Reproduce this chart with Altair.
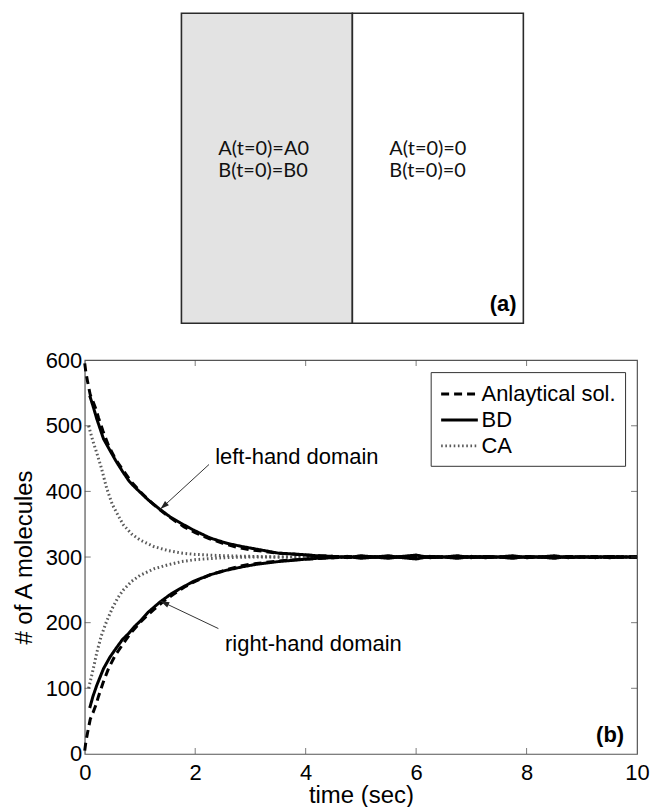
import math
import altair as alt
import pandas as pd

# ---------------- panel (b): number of A molecules vs time ----------------
methods = ["Anlaytical sol.", "BD", "CA"]

an_t = [0, 0.02, 0.05, 0.1, 0.15, 0.2, 0.25, 0.33, 0.43, 0.55, 0.68, 0.83, 1.0,
        1.13, 1.25, 1.42, 1.6, 1.8, 2.0, 2.25, 2.5, 2.75, 3.0, 3.5, 4.0, 4.5,
        5.0, 6.0, 7.0, 8.0, 9.0, 10.0]
an_left = [595, 582, 568, 547, 537, 526, 512, 492, 470, 450, 434, 416, 400,
           389, 380, 368, 357, 346, 337, 328, 321, 315, 311, 306, 303, 301,
           300, 300, 300, 300, 300, 300]
an_right = [5, 18, 32, 53, 63, 74, 88, 108, 130, 150, 166, 184, 200,
            211, 220, 232, 243, 254, 263, 272, 279, 285, 289, 294, 297, 299,
            300, 300, 300, 300, 300, 300]

bd_t = [0.09, 0.15, 0.22, 0.34, 0.46, 0.56, 0.68, 0.8, 0.9, 1.0, 1.15, 1.37,
        1.55, 1.73, 1.97, 2.27, 2.57, 2.85, 3.11, 3.5, 3.9, 4.2,
        4.5, 4.75, 5.0, 5.25, 5.5, 5.75, 6.0, 6.25, 6.5, 6.75, 7.0, 7.25,
        7.5, 7.75, 8.0, 8.25, 8.5, 8.75, 9.0, 9.25, 9.5, 9.75, 10.0]
bd_left = [546, 530, 510, 480, 462, 447, 431, 416, 407, 399, 387, 372,
           361, 352, 341, 329, 321, 316, 312, 306, 304, 302,
           301, 299, 302, 300, 298, 301, 303, 299, 300, 302, 299, 301,
           300, 298, 301, 300, 302, 299, 300, 301, 299, 300, 300]
bd_right = [70, 88, 105, 130, 148, 160, 174, 184, 194, 202, 216, 232,
            243, 252, 263, 273, 280, 285, 289, 293, 296, 298,
            299, 301, 298, 300, 302, 299, 297, 301, 300, 298, 301, 299,
            300, 302, 299, 300, 298, 301, 300, 299, 301, 300, 300]

ca_t = [0.07, 0.15, 0.22, 0.3, 0.4, 0.5, 0.6, 0.7, 0.85, 1.0, 1.25, 1.5,
        1.75, 2.0, 2.5, 3.0, 3.5, 4.0, 6.0, 8.0, 10.0]
ca_left = [500, 476, 458, 436, 404, 380, 364, 349, 335, 326, 316, 310,
           306, 304, 302, 301, 300, 300, 300, 300, 300]
ca_right = [100, 128, 155, 180, 203, 222, 238, 250, 263, 272, 282, 288,
            293, 296, 299, 300, 300, 300, 300, 300, 300]

x_tick_vals = [0, 2, 4, 6, 8, 10]
y_tick_vals = [0, 100, 200, 300, 400, 500, 600]

# annotation arrows: tail (t0, v0) -> head (t1, v1)
arrow_t0 = [2.25, 2.42]
arrow_v0 = [441, 191]
arrow_t1 = [1.37, 1.37]
arrow_v1 = [373, 233]
note_text = ["left-hand domain", "right-hand domain"]
note_t = [3.84, 4.14]
note_v = [452, 168]

# ---------------- panel (a): two-compartment schematic ----------------
box_x0 = [0, 1]
box_x1 = [1, 2]
box_fill = ["#e3e3e3", "#ffffff"]
cond_text = ["A(t=0)=A0", "B(t=0)=B0", "A(t=0)=0", "B(t=0)=0"]
cond_x = [0.216, 0.216, 1.216, 1.216]
cond_y = [0.561, 0.490, 0.561, 0.490]

FONT = "Liberation Sans"
W_B, H_B = 554, 395
W_A, H_A = 554, 311

# ---------------- build tables ----------------
rows = []
for series_t, vals, m, d in [
    (ca_t, ca_left, "CA", "left"), (ca_t, ca_right, "CA", "right"),
    (an_t, an_left, "Anlaytical sol.", "left"), (an_t, an_right, "Anlaytical sol.", "right"),
    (bd_t, bd_left, "BD", "left"), (bd_t, bd_right, "BD", "right"),
]:
    for t, v in zip(series_t, vals):
        rows.append({"t": t, "v": v, "method": m, "domain": d})
curves = pd.DataFrame(rows)

sx = W_B / 10.0
sy = H_B / 600.0
angles = []
for a, b, c, d in zip(arrow_t0, arrow_v0, arrow_t1, arrow_v1):
    dx = (c - a) * sx
    dy = -(d - b) * sy
    angles.append(math.degrees(math.atan2(dx, -dy)) % 360)
arrows = pd.DataFrame({"t0": arrow_t0, "v0": arrow_v0, "t1": arrow_t1,
                       "v1": arrow_v1, "ang": angles})
notes = pd.DataFrame({"label": note_text, "t": note_t, "v": note_v})

xs = alt.Scale(domain=[0, 10], nice=False, zero=False)
ys = alt.Scale(domain=[0, 600], nice=False, zero=False)

# a long horizontal stroke drawn from a compact symbol box keeps the rows tight
legend = alt.Legend(title=None, orient="none", legendX=347, legendY=12,
                    strokeColor="#333333", fillColor="white", padding=9,
                    symbolType="M -1 0 L 2.2 0", symbolSize=529, labelFont=FONT,
                    labelFontSize=22, labelColor="black", labelOffset=16,
                    rowPadding=2, cornerRadius=0)

lines = alt.Chart(curves).mark_line(strokeCap="butt").encode(
    x=alt.X("t:Q", scale=xs,
            axis=alt.Axis(values=x_tick_vals, format="d", ticks=False, domain=False,
                          grid=False, labelFont=FONT, labelFontSize=22,
                          labelColor="black", labelPadding=9, labelFlush=False,
                          title="time (sec)", titleFont=FONT, titleFontSize=24,
                          titleFontWeight="normal", titleColor="black",
                          titlePadding=0)),
    y=alt.Y("v:Q", scale=ys,
            axis=alt.Axis(values=y_tick_vals, format="d", ticks=False, domain=False,
                          grid=False, labelFont=FONT, labelFontSize=22,
                          labelColor="black", labelPadding=3, labelFlush=False,
                          title="# of A molecules", titleFont=FONT, titleFontSize=24,
                          titleFontWeight="normal", titleColor="black",
                          titlePadding=9)),
    color=alt.Color("method:N", scale=alt.Scale(domain=methods,
                    range=["black", "black", "#5a5a5a"]), legend=legend),
    strokeDash=alt.StrokeDash("method:N", scale=alt.Scale(domain=methods,
                    range=[[8, 5], [1, 0], [1.6, 2.6]]), legend=legend),
    strokeWidth=alt.StrokeWidth("method:N", scale=alt.Scale(domain=methods,
                    range=[3, 3, 1.6]), legend=legend),
    detail="domain:N",
)

# inward tick marks on all four sides of the frame
xt = pd.DataFrame({"v": x_tick_vals[1:-1]})
yt = pd.DataFrame({"v": y_tick_vals[1:-1]})
tick_style = dict(color="#444444", thickness=1, size=6)
ticks_bottom = alt.Chart(xt).mark_tick(orient="vertical", **tick_style).encode(
    x=alt.X("v:Q", scale=xs), y=alt.value(H_B - 3))
ticks_top = alt.Chart(xt).mark_tick(orient="vertical", **tick_style).encode(
    x=alt.X("v:Q", scale=xs), y=alt.value(3))
ticks_left = alt.Chart(yt).mark_tick(orient="horizontal", **tick_style).encode(
    y=alt.Y("v:Q", scale=ys), x=alt.value(3))
ticks_right = alt.Chart(yt).mark_tick(orient="horizontal", **tick_style).encode(
    y=alt.Y("v:Q", scale=ys), x=alt.value(W_B - 3))

arrow_lines = alt.Chart(arrows).mark_rule(color="#333333", strokeWidth=1).encode(
    x=alt.X("t0:Q", scale=xs), y=alt.Y("v0:Q", scale=ys), x2="t1:Q", y2="v1:Q")
arrow_heads = alt.Chart(arrows).mark_point(
    shape="M 0 0 L -0.32 1 L 0.32 1 Z", filled=True, color="#222222",
    size=320, opacity=1).encode(
    x=alt.X("t1:Q", scale=xs), y=alt.Y("v1:Q", scale=ys),
    angle=alt.Angle("ang:Q", scale=None))

note_marks = alt.Chart(notes).mark_text(font=FONT, fontSize=22, color="black").encode(
    x=alt.X("t:Q", scale=xs), y=alt.Y("v:Q", scale=ys), text="label:N")

tag_b = alt.Chart(pd.DataFrame({"label": ["(b)"]})).mark_text(
    font=FONT, fontSize=22, fontWeight="bold", align="right", baseline="middle",
    color="black").encode(x=alt.value(W_B - 13), y=alt.value(H_B - 19), text="label:N")

panel_b = alt.layer(
    lines, ticks_bottom, ticks_top, ticks_left, ticks_right,
    arrow_lines, arrow_heads, note_marks, tag_b,
).properties(width=W_B, height=H_B,
             view=alt.ViewBackground(stroke="#555555", strokeWidth=1.2))

# ---------------- panel (a) ----------------
boxes = pd.DataFrame({"x0": box_x0, "x1": box_x1, "y0": [0, 0], "y1": [1, 1],
                      "fill": box_fill})
conds = pd.DataFrame({"label": cond_text, "x": cond_x, "y": cond_y})

axs = alt.Scale(domain=[-0.5656, 2.665], nice=False, zero=False)
ays = alt.Scale(domain=[0, 1], nice=False, zero=False)

rects = alt.Chart(boxes).mark_rect(stroke="#2a2a2a", strokeWidth=1.6).encode(
    x=alt.X("x0:Q", scale=axs, axis=None), x2="x1:Q",
    y=alt.Y("y0:Q", scale=ays, axis=None), y2="y1:Q",
    fill=alt.Fill("fill:N", scale=None))
cond_marks = alt.Chart(conds).mark_text(font="Lato", fontSize=20, align="left",
                                        baseline="middle", color="#111111").encode(
    x=alt.X("x:Q", scale=axs), y=alt.Y("y:Q", scale=ays), text="label:N")
tag_a = alt.Chart(pd.DataFrame({"label": ["(a)"], "x": [1.96], "y": [0.061]})).mark_text(
    font=FONT, fontSize=22, fontWeight="bold", align="right", baseline="middle",
    color="black").encode(x=alt.X("x:Q", scale=axs), y=alt.Y("y:Q", scale=ays),
                          text="label:N")

panel_a = alt.layer(rects, cond_marks, tag_a).properties(
    width=W_A, height=H_A, view=alt.ViewBackground(strokeOpacity=0))

chart = alt.vconcat(panel_a, panel_b, spacing=24).resolve_legend(
    color="independent", strokeDash="independent", strokeWidth="independent"
).properties(
    padding={"left": 11, "top": 11, "right": 0, "bottom": 0},
    background="white",
).configure_view(stroke="#555555")

chart.save("out.html", embed_options={"renderer": "svg", "actions": False})
